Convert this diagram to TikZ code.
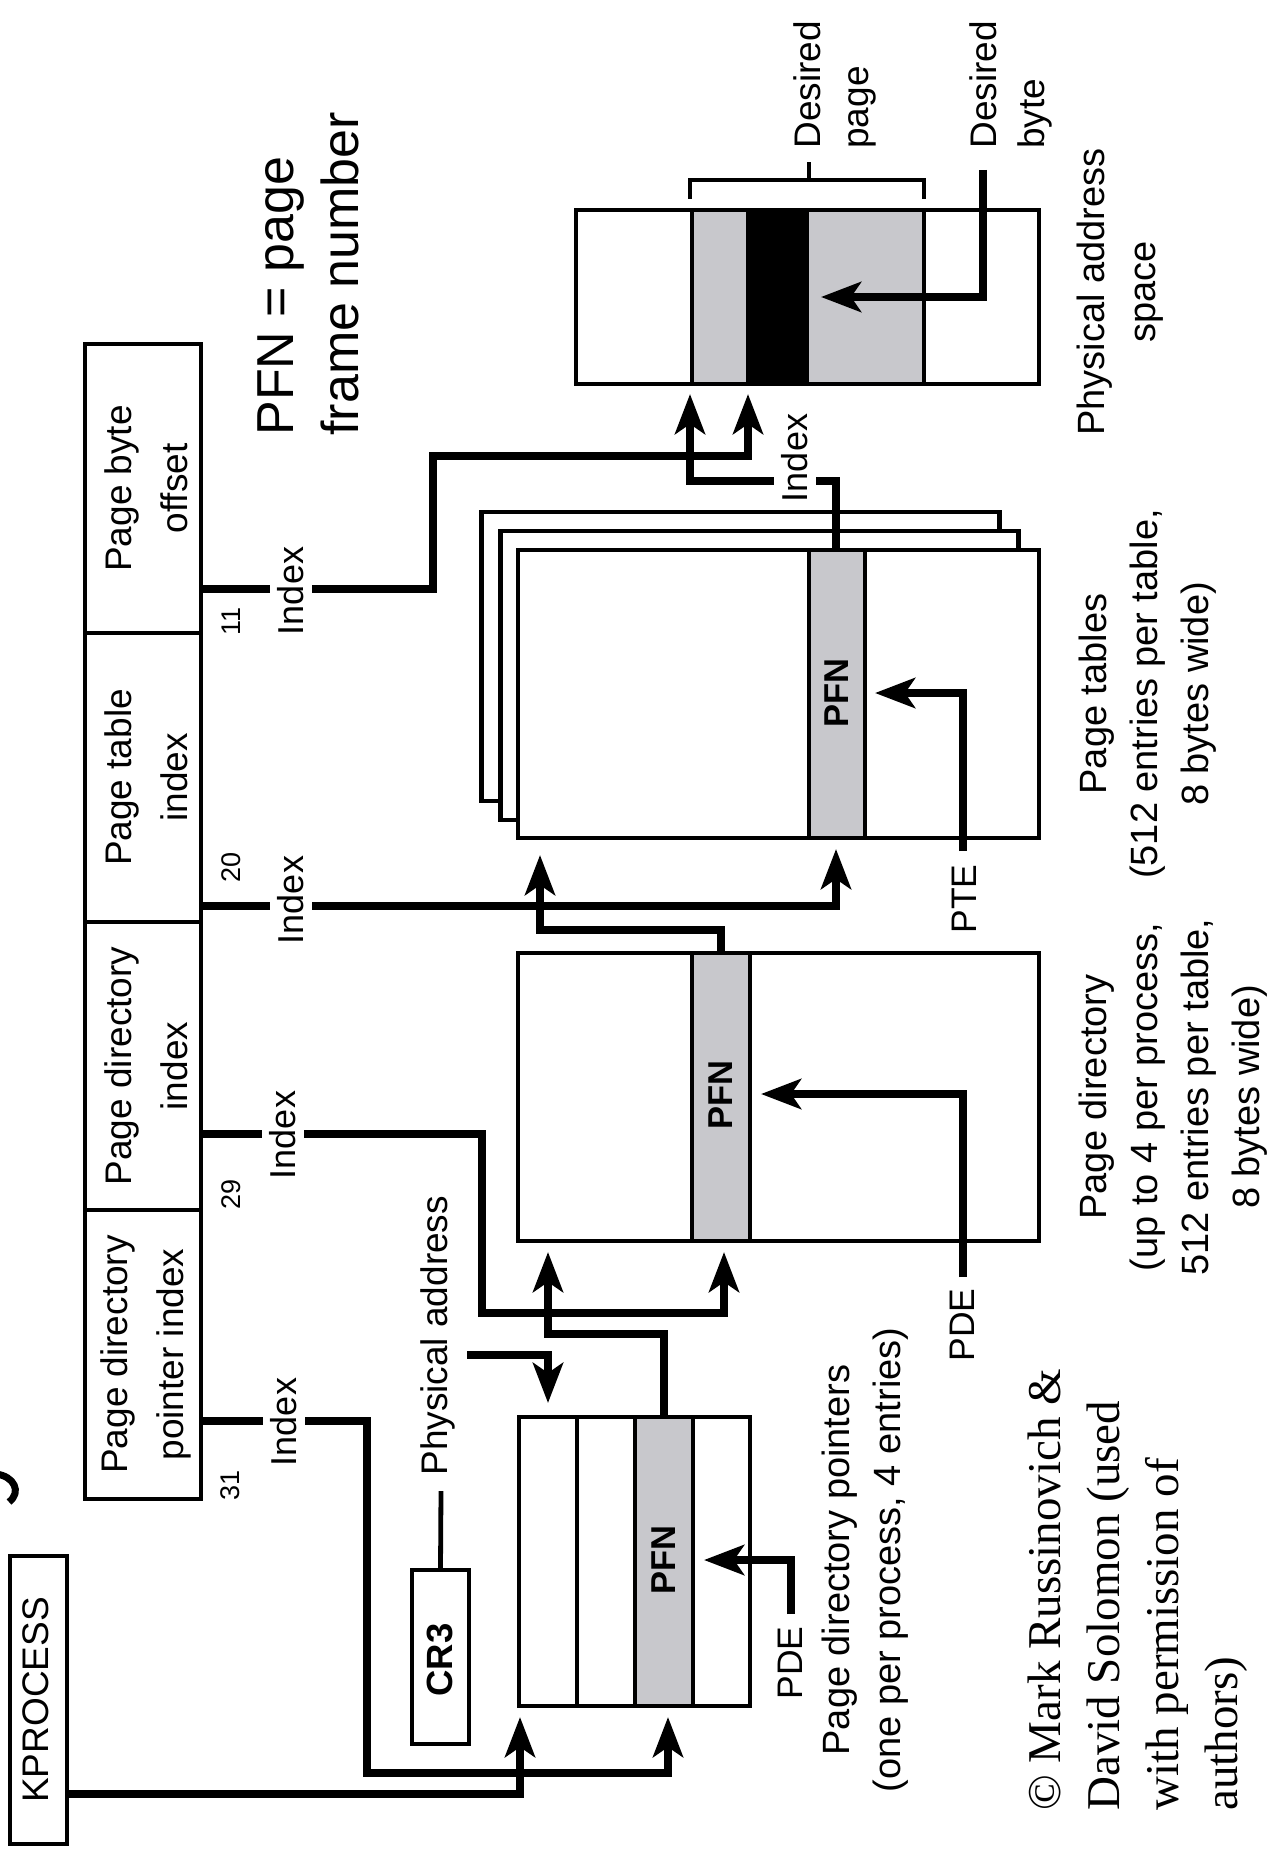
\documentclass[tikz,border=0pt]{standalone}
\usepackage{fontspec}
\setmainfont{Liberation Sans}
\newfontfamily\cpyfont{Liberation Serif}
\usetikzlibrary{arrows.meta}
\definecolor{pfngray}{RGB}{200,200,204}
\begin{document}
\begin{tikzpicture}[x=0.5pt,y=-0.5pt,
  box/.style={draw, line width=2.2pt, fill=white, inner sep=0pt},
  conn/.style={line width=3.8pt},
  arr/.style={conn, -{Stealth[length=20pt,width=15pt,inset=5pt]}},
  thinln/.style={line width=2.4pt},
  lab/.style={rotate=90, inner sep=0pt},
  boxtxt/.style={lab, align=center, font=\fontsize{18.5pt}{28pt}\selectfont},
  captxt/.style={lab, align=center, font=\fontsize{19pt}{25.5pt}\selectfont},
  idx/.style={rotate=90, fill=white, inner sep=4pt, font=\fontsize{18pt}{20pt}\selectfont},
  bit/.style={lab, font=\fontsize{13.5pt}{15pt}\selectfont},
  pfn/.style={lab, font=\fontsize{17.25pt}{20pt}\selectfont\bfseries},
  smalltxt/.style={lab, font=\fontsize{17.75pt}{20pt}\selectfont},
  stripe/.style={draw, line width=2.2pt, fill=pfngray},
]
\useasboundingbox (0,0) rectangle (1272,1856);

% fragment of a cut-off title letter
\draw[line width=3.5pt] (-4,1474) .. controls (14,1476) and (22,1492) .. (9,1502);

% ---------- virtual address ----------
\node[box, minimum width=58pt, minimum height=144.5pt] (vpbo) at (143,488.5) {};
\node[box, minimum width=58pt, minimum height=144.5pt] (vpti) at (143,777.5) {};
\node[box, minimum width=58pt, minimum height=144pt] (vpdi) at (143,1066) {};
\node[box, minimum width=58pt, minimum height=144.5pt] (vpdpi) at (143,1354.5) {};
\node[boxtxt] (tpbo) at (146,488.5) {Page byte\\offset};
\node[boxtxt] (tpti) at (146,777.5) {Page table\\index};
\node[boxtxt] (tpdi) at (146,1066) {Page directory\\index};
\node[boxtxt] (tpdpi) at (146,1354.5) {Page directory\\pointer index};

\node[bit] (b11) at (231,621.5) {11};
\node[bit] (b20) at (231,867.5) {20};
\node[bit] (b29) at (231,1194.5) {29};
\node[bit] (b31) at (230,1485) {31};

% ---------- physical address space ----------
\node[box, minimum width=231.5pt, minimum height=87pt] (phys) at (807.5,297) {};
\draw[stripe] (692,210) rectangle (924,384);
\draw[line width=2.2pt, fill=black] (748,210) rectangle (807,384);
\draw[thinln] (690,199) -- (690,180) -- (924,180) -- (924,199);
\draw[thinln] (809,180) -- (809,162);

% ---------- page tables ----------
\node[box, minimum width=259pt, minimum height=144.5pt] (pt3) at (740.5,656.5) {};
\node[box, minimum width=259pt, minimum height=144.5pt] (pt2) at (759.5,675.5) {};
\node[box, minimum width=260.5pt, minimum height=144pt] (pt1) at (778.5,694) {};
\draw[stripe] (809,550) rectangle (865,838);

% ---------- page directory ----------
\node[box, minimum width=260.5pt, minimum height=144pt] (pd) at (778.5,1097) {};
\draw[stripe] (692,953) rectangle (750,1241);

% ---------- page directory pointers ----------
\node[box, minimum width=115.5pt, minimum height=144.5pt] (pdp) at (634.5,1561.5) {};
\draw[line width=2.2pt] (577,1417) -- (577,1706);
\draw[stripe] (635,1417) rectangle (693,1706);

% ---------- KPROCESS, CR3 ----------
\node[box, minimum width=28.5pt, minimum height=144pt] (kproc) at (38.5,1700) {};
\node[boxtxt] (tkproc) at (36,1700) {KPROCESS};
\node[box, minimum width=28.5pt, minimum height=87pt] (cr3) at (440.5,1657) {};
\node[lab, font=\fontsize{18.25pt}{20pt}\selectfont\bfseries] (tcr3) at (440,1660) {CR3};

% ---------- PFN labels ----------
\node[pfn] (pfn1) at (664,1560) {PFN};
\node[pfn] (pfn2) at (721,1095) {PFN};
\node[pfn] (pfn3) at (837,693) {PFN};

% ---------- end points ----------
\coordinate (physA) at (748,394);
\coordinate (physB) at (690,394);
\coordinate (ptA) at (836,849);
\coordinate (ptB) at (540,855);
\coordinate (pdA) at (724,1252);
\coordinate (pdB) at (548,1252);
\coordinate (pdpA) at (668,1717);
\coordinate (pdpB) at (520,1717);
\coordinate (pdpC) at (548,1403);
\coordinate (cr3end) at (441,1491);

% ---------- connectors ----------
\draw[arr] (vpbo.east |- 0,589) -- (433,589) -- (433,456) -- (748,456) -- (physA);
\draw[arr] (vpti.east |- 0,906) -- (836,906) -- (ptA);
\draw[arr] (vpdi.east |- 0,1134) -- (482,1134) -- (482,1313) -- (724,1313) -- (pdA);
\draw[arr] (vpdpi.east |- 0,1421) -- (367,1421) -- (367,1773) -- (668,1773) -- (pdpA);
\draw[arr] (kproc.east |- 0,1794) -- (520,1794) -- (pdpB);
\draw[arr] (pdp.north -| 664,0) -- (664,1334) -- (548,1334) -- (pdB);
\draw[arr] (pd.north -| 721,0) -- (721,930) -- (540,930) -- (ptB);
\draw[arr] (pt1.north -| 836,0) -- (836,481) -- (690,481) -- (physB);
\draw[thinln] (cr3.north) -- (cr3end);
\node[lab, anchor=west, font=\fontsize{18.5pt}{20pt}\selectfont] (tphysaddr) at (438,1476) {Physical address};
\draw[arr] (467,1355) -- (548,1355) -- (pdpC);

\draw[arr] (963,851) -- (963,693) -- (875,693);
\draw[arr] (963,1277) -- (963,1094) -- (761,1094);
\draw[arr] (791,1614) -- (791,1560) -- (704,1560);
\draw[arr] (983,170) -- (983,297) -- (821,297);

% ---------- Index labels ----------
\node[idx] (iA) at (291,591) {Index};
\node[idx] (iB) at (291,900) {Index};
\node[idx] (iC) at (283,1135) {Index};
\node[idx] (iD) at (284,1422) {Index};
\node[idx] (iE) at (795,458) {Index};

% ---------- entry labels ----------
\node[smalltxt] (pte) at (964,899) {PTE};
\node[smalltxt] (pde2) at (962,1325) {PDE};
\node[smalltxt] (pde1) at (790,1663) {PDE};

% ---------- captions ----------
\node[lab, anchor=north west, align=left, font=\fontsize{18.5pt}{24pt}\selectfont] (dpage) at (793,149) {Desired\\page};
\node[lab, anchor=north west, align=left, font=\fontsize{18.5pt}{24pt}\selectfont] (dbyte) at (969,149) {Desired\\byte};
\node[captxt] (capphys) at (1120,292) {Physical address\\space};
\node[captxt] (cappt) at (1148,694) {Page tables\\(512 entries per table,\\8 bytes wide)};
\node[captxt] (cappd) at (1173,1097) {Page directory\\(up to 4 per process,\\512 entries per table,\\8 bytes wide)};
\node[captxt] (cappdp) at (865,1560) {Page directory pointers\\(one per process, 4 entries)};

\node[lab, anchor=north west, align=left, font=\fontsize{26pt}{32.5pt}\selectfont] (pfnnote) at (257,436) {PFN = page\\frame number};

\node[lab, anchor=north west, align=left, font=\cpyfont\fontsize{23.5pt}{29.5pt}\selectfont] (copy) at (1027,1811) {© Mark Russinovich \&\\David Solomon (used\\with permission of\\authors)};
\end{tikzpicture}
\end{document}
